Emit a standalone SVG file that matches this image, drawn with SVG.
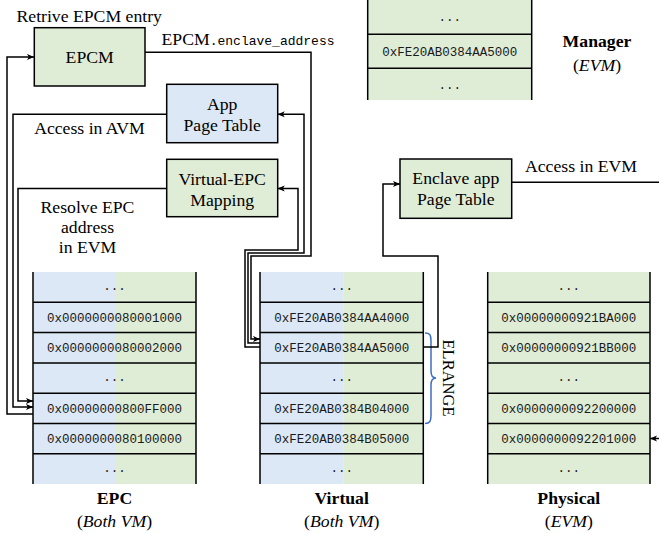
<svg xmlns="http://www.w3.org/2000/svg" width="659" height="533" viewBox="0 0 659 533">
<defs>
<marker id="arr" viewBox="0 0 8 8" refX="8" refY="4" markerWidth="7" markerHeight="7" markerUnits="userSpaceOnUse" orient="auto"><path d="M0,0.5 L8,4 L0,7.5 L2,4z" fill="#000"/></marker>
<style>
.s{font-family:'Liberation Serif',serif;font-size:17.7px;fill:#000}
.b{font-weight:bold}
.i{font-style:italic}
.m{font-family:'Liberation Mono',monospace;font-size:12.5px;fill:#1a1a1a}
.c{text-anchor:middle}
.box{stroke:#000;stroke-width:1.5}
.g{fill:#dfecd6}
.bl{fill:#dce8f5}
.ln{stroke:#000;stroke-width:1.5;fill:none}
.conn{stroke:#000;stroke-width:1.5;fill:none}
</style>
</defs>
<rect width="659" height="533" fill="#fff"/>

<g id="epcm">
<rect class="box g" x="34.3" y="27.7" width="110.7" height="58.3"/>
<text class="s c" x="89.7" y="63.3">EPCM</text>
</g>
<g id="app-page-table">
<rect class="box bl" x="166.7" y="84.3" width="111" height="58.4"/>
<text class="s c" x="222.2" y="110">App</text>
<text class="s c" x="222.2" y="131">Page Table</text>
</g>
<g id="virtual-epc-mapping">
<rect class="box g" x="166.7" y="159.3" width="111" height="57.4"/>
<text class="s c" x="222.2" y="185">Virtual-EPC</text>
<text class="s c" x="222.2" y="206">Mapping</text>
</g>
<g id="enclave-page-table">
<rect class="box g" x="400" y="159" width="111.7" height="59.3"/>
<text class="s c" x="455.8" y="183.5">Enclave app</text>
<text class="s c" x="455.8" y="205">Page Table</text>
</g>

<g id="manager">
<rect class="g" x="367.7" y="0" width="164" height="100"/>
<path class="ln" d="M367.7,0 V100 M531.7,0 V100 M367.7,34.3 H531.7 M367.7,68.3 H531.7"/>
<text class="m c" x="449.7" y="21">...</text>
<text class="m c" x="449.7" y="55.5">0xFE20AB0384AA5000</text>
<text class="m c" x="449.7" y="88.5">...</text>
<text class="s b c" x="597" y="47">Manager</text>
<text class="s c" x="597" y="70.5">(<tspan class="i">EVM</tspan>)</text>
</g>

<g id="epc">
<rect class="bl" x="33" y="272" width="83" height="212"/>
<rect class="g" x="116" y="272" width="80" height="212"/>
<path class="ln" d="M33,272 V484 M196,272 V484 M33,302.3 H196 M33,332.6 H196 M33,362.9 H196 M33,393.2 H196 M33,423.5 H196 M33,453.8 H196"/>
<text class="m c" x="114.5" y="290">...</text>
<text class="m c" x="114.5" y="322">0x0000000080001000</text>
<text class="m c" x="114.5" y="352.3">0x0000000080002000</text>
<text class="m c" x="114.5" y="381">...</text>
<text class="m c" x="114.5" y="412.9">0x00000000800FF000</text>
<text class="m c" x="114.5" y="443.2">0x0000000080100000</text>
<text class="m c" x="114.5" y="472">...</text>
<text class="s b c" x="114.5" y="504">EPC</text>
<text class="s c" x="114.5" y="527">(<tspan class="i">Both VM</tspan>)</text>
</g>

<g id="virtual">
<rect class="bl" x="260" y="272" width="83.3" height="212"/>
<rect class="g" x="343.3" y="272" width="80" height="212"/>
<path class="ln" d="M260,272 V484 M423.3,272 V484 M260,302.3 H423.3 M260,332.6 H423.3 M260,362.9 H423.3 M260,393.2 H423.3 M260,423.5 H423.3 M260,453.8 H423.3"/>
<text class="m c" x="341.7" y="290">...</text>
<text class="m c" x="341.7" y="322">0xFE20AB0384AA4000</text>
<text class="m c" x="341.7" y="352.3">0xFE20AB0384AA5000</text>
<text class="m c" x="341.7" y="381">...</text>
<text class="m c" x="341.7" y="412.9">0xFE20AB0384B04000</text>
<text class="m c" x="341.7" y="443.2">0xFE20AB0384B05000</text>
<text class="m c" x="341.7" y="472">...</text>
<text class="s b c" x="341.7" y="504">Virtual</text>
<text class="s c" x="341.7" y="527">(<tspan class="i">Both VM</tspan>)</text>
</g>

<g id="elrange">
<path d="M425,333 C430,333 431,335 431,341 L431,371 C431,376 433,378 436,378 C433,378 431,380 431,385 L431,415 C431,421 430,423.5 425,423.5" fill="none" stroke="#3d6fc4" stroke-width="1.5"/>
<text class="s c" transform="translate(443,378) rotate(90)" x="0" y="0" style="font-size:16.5px">ELRANGE</text>
</g>

<g id="physical">
<rect class="g" x="487.7" y="272" width="162.3" height="212"/>
<path class="ln" d="M487.7,272 V484 M650,272 V484 M487.7,302.3 H650 M487.7,332.6 H650 M487.7,362.9 H650 M487.7,393.2 H650 M487.7,423.5 H650 M487.7,453.8 H650"/>
<text class="m c" x="568.8" y="290">...</text>
<text class="m c" x="568.8" y="322">0x00000000921BA000</text>
<text class="m c" x="568.8" y="352.3">0x00000000921BB000</text>
<text class="m c" x="568.8" y="381">...</text>
<text class="m c" x="568.8" y="412.9">0x0000000092200000</text>
<text class="m c" x="568.8" y="443.2">0x0000000092201000</text>
<text class="m c" x="568.8" y="472">...</text>
<text class="s b c" x="568.8" y="504">Physical</text>
<text class="s c" x="568.8" y="527">(<tspan class="i">EVM</tspan>)</text>
</g>

<g id="connectors">
<path class="conn" d="M33,414 H7 V57 H34" marker-end="url(#arr)"/>
<path class="conn" d="M166.7,114.3 H13 V407 H33" marker-end="url(#arr)"/>
<path class="conn" d="M166.7,188.5 H18 V401 H33" marker-end="url(#arr)"/>
<path class="conn" d="M145,52.3 H311 V256 H251 V339 H260" marker-end="url(#arr)"/>
<path class="conn" d="M260,343 H248 V253 H304 V114.3 H277.7" marker-end="url(#arr)"/>
<path class="conn" d="M260,347 H245 V250 H298 V188.5 H277.7" marker-end="url(#arr)"/>
<path class="conn" d="M423.3,347 H438 V256 H383 V184 H400" marker-end="url(#arr)"/>
<path class="conn" d="M511.7,182.3 H659"/>
<path class="conn" d="M659,438.5 H650" marker-end="url(#arr)"/>
</g>

<g id="labels">
<text class="s" x="16.5" y="22">Retrive EPCM entry</text>
<text class="s" x="161.5" y="45">EPCM<tspan class="m" style="font-size:13px;fill:#000">.enclave_address</tspan></text>
<text class="s c" x="89.5" y="133.5">Access in AVM</text>
<text class="s c" x="87.5" y="213">Resolve EPC</text>
<text class="s c" x="87.5" y="233">address</text>
<text class="s c" x="87.5" y="253">in EVM</text>
<text class="s" x="525" y="172">Access in EVM</text>
</g>
</svg>
